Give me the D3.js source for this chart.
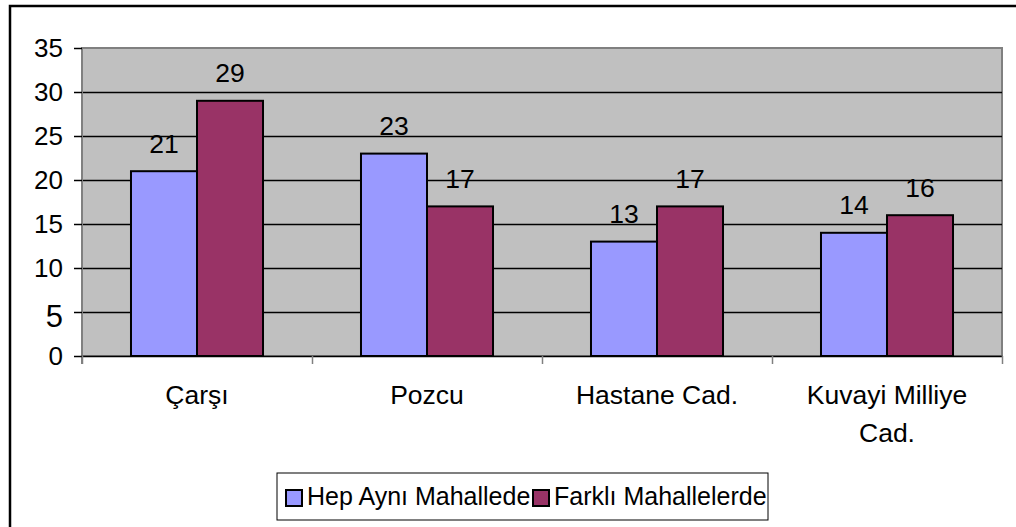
<!DOCTYPE html>
<html>
<head>
<meta charset="utf-8">
<script src="https://cdn.jsdelivr.net/npm/d3@7"></script>
<style>
  body { margin: 0; background: #fff; }
  text { font-family: "Liberation Sans", Arial, sans-serif; fill: #000; }
</style>
</head>
<body>
<div id="chart"></div>
<script>
// data
const categories = ["Çarşı", "Pozcu", "Hastane Cad.", "Kuvayi Milliye Cad."];
const seriesNames = ["Hep Aynı Mahallede", "Farklı Mahallelerde"];
const hepAyni = [21, 23, 13, 14];
const farkli = [29, 17, 17, 16];
const yTicks = [0, 5, 10, 15, 20, 25, 30, 35];
const colors = ["#9999FF", "#993366"];

const W = 1016, H = 527;
const margin = { top: 48, right: 14, bottom: 171, left: 82 },
  width = W - margin.left - margin.right,
  height = H - margin.top - margin.bottom;

const svg = d3.select("#chart").append("svg")
  .attr("width", W)
  .attr("height", H);

// outer frame of the chart object
svg.append("rect")
  .attr("x", 10).attr("y", 6)
  .attr("width", W + 20).attr("height", H + 20)
  .attr("fill", "#fff")
  .attr("stroke", "#000")
  .attr("stroke-width", 2.5);

const g = svg.append("g")
  .attr("transform", `translate(${margin.left},${margin.top})`);

const rows = categories.map((c, i) => ({ cat: c, values: [hepAyni[i], farkli[i]] }));

// scales
const x0 = d3.scaleBand().domain(categories).range([0, width])
  .paddingInner(0.426).paddingOuter(0.213);
const x1 = d3.scaleBand().domain(d3.range(seriesNames.length)).range([0, x0.bandwidth()]);
const y = d3.scaleLinear().domain([0, 35]).range([height, 0]);

// plot background
g.append("rect")
  .attr("width", width).attr("height", height)
  .attr("fill", "#C0C0C0")
  .attr("stroke", "#808080")
  .attr("stroke-width", 2);

// gridlines
g.append("g")
  .call(d3.axisLeft(y).tickValues(yTicks.slice(1, -1)).tickSize(-width).tickFormat(""))
  .call(a => a.select(".domain").remove())
  .selectAll("line").attr("stroke", "#000").attr("stroke-width", 1.5);

// bars
g.append("g")
  .selectAll("g")
  .data(rows)
  .join("g")
  .attr("transform", d => `translate(${x0(d.cat)},0)`)
  .selectAll("rect")
  .data(d => d.values.map((v, i) => ({ i, v })))
  .join("rect")
  .attr("x", d => x1(d.i))
  .attr("y", d => y(d.v))
  .attr("width", x1.bandwidth())
  .attr("height", d => y(0) - y(d.v))
  .attr("fill", d => colors[d.i])
  .attr("stroke", "#000")
  .attr("stroke-width", 2);

// value labels
g.append("g")
  .selectAll("g")
  .data(rows)
  .join("g")
  .attr("transform", d => `translate(${x0(d.cat)},0)`)
  .selectAll("text")
  .data(d => d.values.map((v, i) => ({ i, v })))
  .join("text")
  .attr("x", d => x1(d.i) + x1.bandwidth() / 2)
  .attr("y", d => y(d.v) - 18.5)
  .attr("text-anchor", "middle")
  .style("font-size", "26.5px")
  .text(d => d.v);

// y axis
const yAxis = g.append("g")
  .call(d3.axisLeft(y).tickValues(yTicks).tickSize(8).tickPadding(11).tickSizeOuter(0));
yAxis.select(".domain").attr("stroke", "#808080").attr("stroke-width", 2)
  .attr("d", `M0,0V${height + 8}`);
yAxis.selectAll(".tick line").attr("stroke", "#000").attr("stroke-width", 1.5);
yAxis.selectAll(".tick text")
  .style("font-size", d => (d === 5 ? "31px" : "26px"))
  .attr("dy", d => (d === 5 ? "0.48em" : "0.34em"));

// x axis: line at zero plus ticks at category boundaries
const xb = d3.scaleLinear().domain([0, categories.length]).range([0, width]);
const xAxis = g.append("g")
  .attr("transform", `translate(0,${height})`)
  .call(d3.axisBottom(xb).ticks(categories.length).tickSize(8).tickFormat("").tickSizeOuter(0));
xAxis.select(".domain").attr("stroke", "#000").attr("stroke-width", 1.5);
xAxis.selectAll(".tick line").attr("stroke", "#808080").attr("stroke-width", 1.5);

// category labels (wrapped)
const catLabels = g.append("g")
  .selectAll("text")
  .data(categories)
  .join("text")
  .attr("text-anchor", "middle")
  .attr("y", height + 48)
  .style("font-size", "26.5px")
  .text(d => d);

catLabels.each(function (d) {
  const t = d3.select(this);
  const cx = x0(d) + x0.bandwidth() / 2;
  const words = d.split(" ");
  t.text(null);
  let line = [];
  let tspan = t.append("tspan").attr("x", cx).attr("dy", 0);
  for (const w of words) {
    line.push(w);
    tspan.text(line.join(" "));
    if (tspan.node().getComputedTextLength() > x0.step() * 0.85 && line.length > 1) {
      line.pop();
      tspan.text(line.join(" "));
      line = [w];
      tspan = t.append("tspan").attr("x", cx).attr("dy", 38).text(w);
    }
  }
});

// legend
const legend = svg.append("g").attr("transform", "translate(277,473)");
legend.append("rect")
  .attr("width", 491).attr("height", 47)
  .attr("fill", "#fff").attr("stroke", "#000").attr("stroke-width", 1);
const legendX = [9, 256];
const items = legend.selectAll("g.item")
  .data(seriesNames)
  .join("g")
  .attr("class", "item")
  .attr("transform", (d, i) => `translate(${legendX[i]},0)`);
items.append("rect")
  .attr("x", 0).attr("y", 17)
  .attr("width", 16).attr("height", 16)
  .attr("fill", (d, i) => colors[i])
  .attr("stroke", "#000").attr("stroke-width", 2);
items.append("text")
  .attr("x", 21).attr("y", 32)
  .style("font-size", "25px")
  .text(d => d);
</script>
</body>
</html>
